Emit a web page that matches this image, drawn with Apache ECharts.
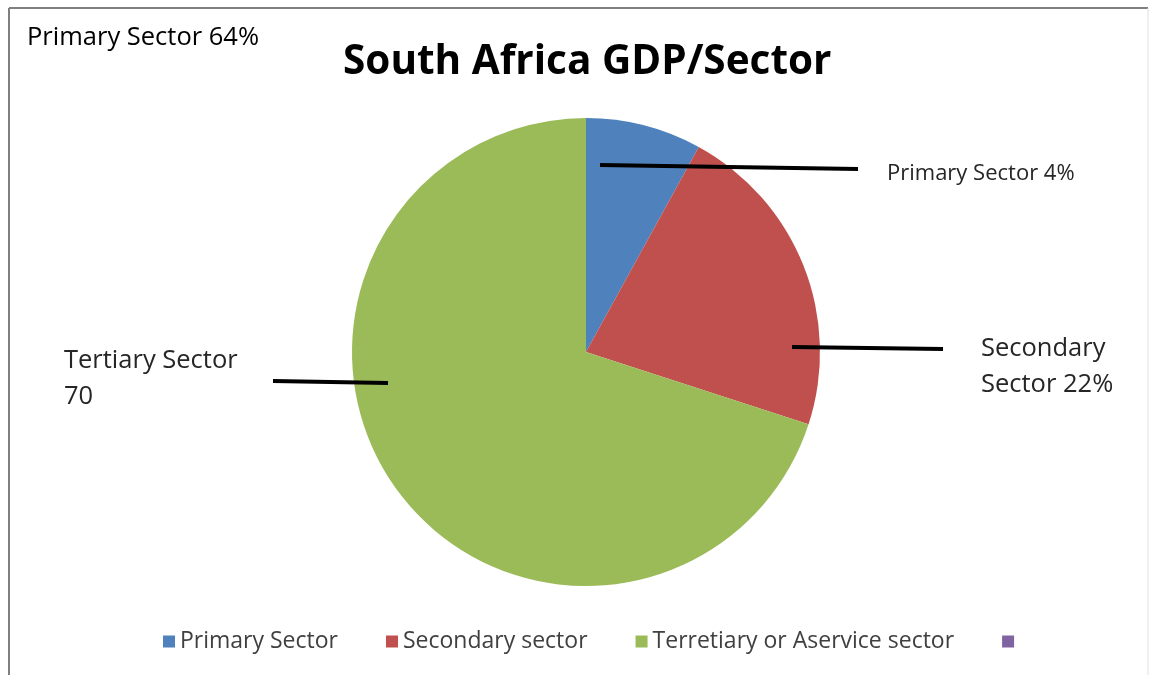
<!DOCTYPE html>
<html><head><meta charset="utf-8">
<script src="https://cdn.jsdelivr.net/npm/echarts@6/dist/echarts.min.js"></script>
<style>html,body{margin:0;padding:0;background:#fff}#c{width:1155px;height:675px}</style>
</head><body><div id="c"></div>
<script>
const categories = ['Primary Sector', 'Secondary sector', 'Terretiary or Aservice sector', ' '];
const values = [8, 22, 70, 0];
const colors = ['#4F81BD', '#C0504D', '#9BBB59', '#8064A2'];
const titleText = 'South Africa GDP/Sector';
const FONT = '"Open Sans", sans-serif';

const chart = echarts.init(document.getElementById('c'), null, {renderer: 'canvas'});
chart.setOption({
  backgroundColor: '#fff',
  animation: false,
  title: {
    text: titleText, left: 338, top: 37,
    textStyle: {fontFamily: FONT, fontSize: 40.5, fontWeight: 'bold', color: '#000'}
  },
  legend: {
    data: categories, top: 625, left: 158,
    icon: 'rect', itemWidth: 12, itemHeight: 12, itemGap: 48,
    textStyle: {fontFamily: FONT, fontSize: 23, color: '#404040'}
  },
  color: colors,
  series: [{
    type: 'pie', center: [586, 352], radius: 234,
    startAngle: 90, clockwise: true,
    label: {show: false}, labelLine: {show: false},
    itemStyle: {borderWidth: 0},
    emphasis: {disabled: true},
    data: categories.map((n, i) => ({name: n, value: values[i]}))
  }],
  graphic: [
    {type: 'line', shape: {x1: 9, y1: 8, x2: 9, y2: 675}, style: {stroke: '#7f7f7f', lineWidth: 2}},
    {type: 'line', shape: {x1: 9, y1: 8, x2: 1148, y2: 8}, style: {stroke: '#7f7f7f', lineWidth: 2}},
    {type: 'line', shape: {x1: 1148, y1: 8, x2: 1148, y2: 675}, style: {stroke: '#e0e0e0', lineWidth: 1}},
    {type: 'line', z: 100, shape: {x1: 600, y1: 165, x2: 858, y2: 169}, style: {stroke: '#000', lineWidth: 4}},
    {type: 'line', z: 100, shape: {x1: 792, y1: 347, x2: 943, y2: 349}, style: {stroke: '#000', lineWidth: 4}},
    {type: 'line', z: 100, shape: {x1: 273, y1: 381, x2: 388, y2: 383}, style: {stroke: '#000', lineWidth: 4}},
    {type: 'text', left: 27, top: 25, style: {text: 'Primary Sector 64%', fontFamily: FONT, fontSize: 25.5, fill: '#000'}},
    {type: 'text', left: 887, top: 163, style: {text: 'Primary Sector 4%', fontFamily: FONT, fontSize: 22, fill: '#262626'}},
    {type: 'text', left: 981, top: 331, style: {text: 'Secondary\nSector 22%', fontFamily: FONT, fontSize: 25.5, lineHeight: 36, fill: '#262626'}},
    {type: 'text', left: 64, top: 343, style: {text: 'Tertiary Sector\n70', fontFamily: FONT, fontSize: 25.5, lineHeight: 36, fill: '#262626'}}
  ]
});
</script></body></html>
